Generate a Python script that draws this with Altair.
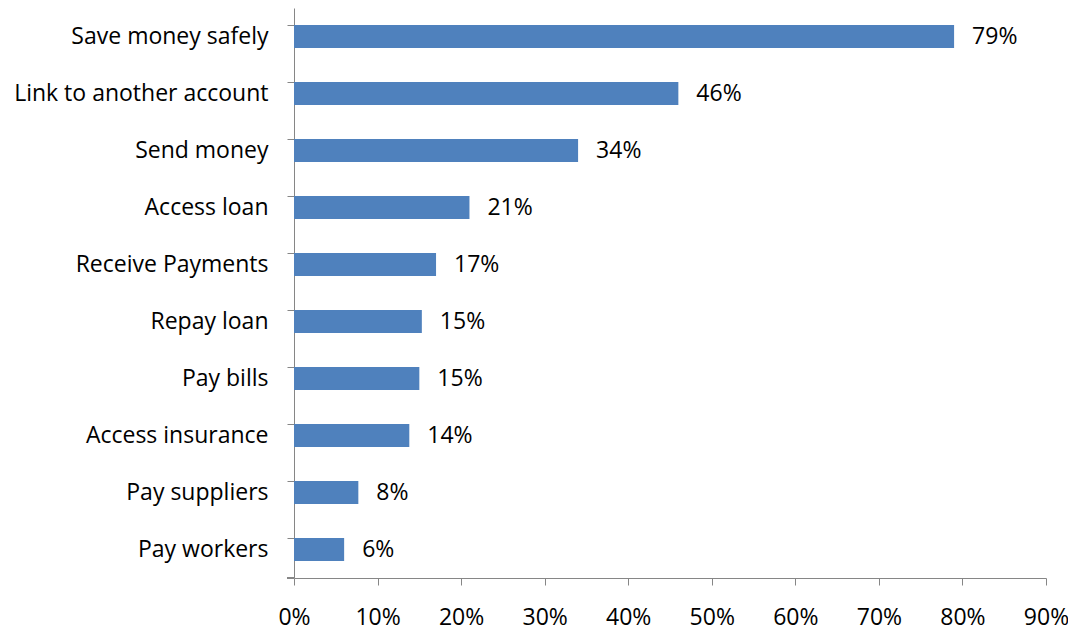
import altair as alt
import pandas as pd

categories = ["Save money safely", "Link to another account", "Send money", "Access loan",
              "Receive Payments", "Repay loan", "Pay bills", "Access insurance",
              "Pay suppliers", "Pay workers"]
values = [0.79, 0.46, 0.34, 0.21, 0.17, 0.153, 0.15, 0.138, 0.077, 0.06]
labels = ["79%", "46%", "34%", "21%", "17%", "15%", "15%", "14%", "8%", "6%"]

df = pd.DataFrame({"cat": categories, "val": values, "lab": labels})

FONT = "Open Sans"
FS = 23
W, H = 752, 570

y_enc = alt.Y("cat:N", sort=categories, title=None,
              scale=alt.Scale(paddingInner=0.6, paddingOuter=0.3),
              axis=alt.Axis(bandPosition=0, tickSize=7, labelPadding=19,
                            labelFont=FONT, labelFontSize=FS, labelColor="black",
                            domainColor="#868686", tickColor="#868686",
                            labelLimit=400))
x_enc = alt.X("val:Q", title=None,
              scale=alt.Scale(domain=[0, 0.9], nice=False),
              axis=alt.Axis(values=[i / 10 for i in range(10)], format=".0%", grid=False,
                            labelFlush=False, labelOverlap=False,
                            tickSize=7, labelPadding=21, labelFont=FONT, labelFontSize=FS,
                            labelColor="black", domainColor="#868686", tickColor="#868686"))

bars = alt.Chart(df).mark_bar(color="#4F81BD").encode(x=x_enc, y=y_enc)
text = alt.Chart(df).mark_text(align="left", baseline="middle", dx=18, font=FONT,
                               fontSize=FS, color="black").encode(
    x="val:Q", y=alt.Y("cat:N", sort=categories), text="lab:N")
corner = alt.Chart(df).mark_rule(color="#868686").encode(
    x=alt.value(-7), x2=alt.value(0), y=alt.value(H))

chart = alt.layer(bars, text, corner).properties(
    width=W, height=H,
    autosize=alt.AutoSizeParams(type="none"),
    padding={"left": 286, "top": 0, "right": 22, "bottom": 52},
).configure_view(stroke=None)

chart.save("out.html", embed_options={"renderer": "svg", "actions": False})
